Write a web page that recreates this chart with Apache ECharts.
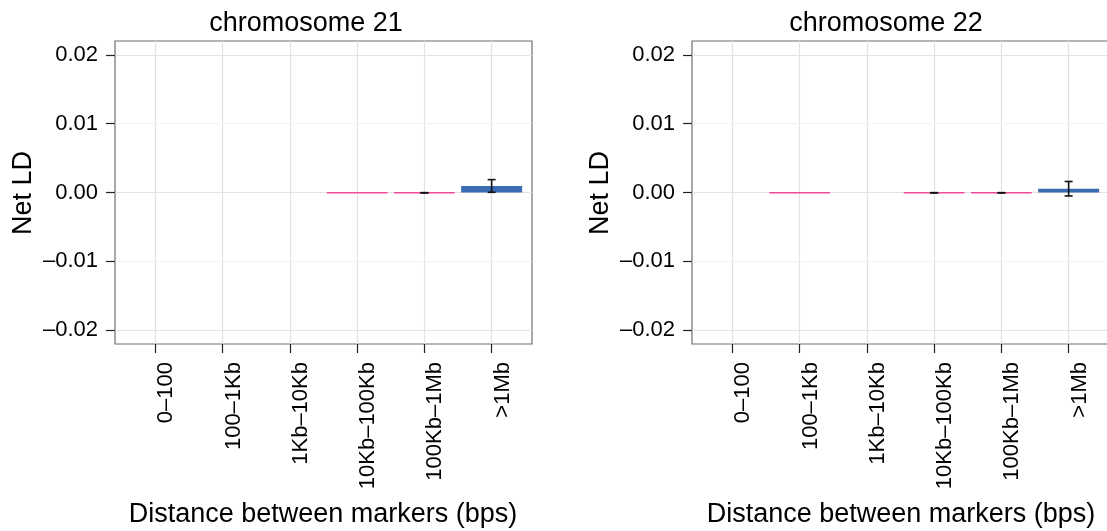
<!DOCTYPE html>
<html>
<head>
<meta charset="utf-8">
<script src="https://cdn.jsdelivr.net/npm/echarts@6/dist/echarts.min.js"></script>
<style>
html,body{margin:0;padding:0;background:#fff;}
#chart{width:1107px;height:531px;}
</style>
</head>
<body>
<div id="chart"></div>
<script>
const categories = ['0\u2013100', '100\u20131Kb', '1Kb\u201310Kb', '10Kb\u2013100Kb', '100Kb\u20131Mb', '>1Mb'];
const yTicks = [-0.02, -0.01, 0, 0.01, 0.02];
const yMinorTicks = [-0.015, -0.005, 0.005, 0.015];
const panelTitles = ['chromosome 21', 'chromosome 22'];
const xAxisTitle = 'Distance between markers (bps)';
const yAxisTitle = 'Net LD';

const chr21Values  = [null, null, null, -0.00004, -0.00004, 0.00095];
const chr21ErrLow  = [null, null, null, null, -0.00006, 0.00003];
const chr21ErrHigh = [null, null, null, null, -0.00002, 0.00187];

const chr22Values  = [null, -0.00004, null, -0.00004, -0.00004, 0.00055];
const chr22ErrLow  = [null, null, null, -0.00006, -0.00006, -0.0005];
const chr22ErrHigh = [null, null, null, -0.00002, -0.00002, 0.0016];

const panels = [
  {values: chr21Values, lo: chr21ErrLow, hi: chr21ErrHigh},
  {values: chr22Values, lo: chr22ErrLow, hi: chr22ErrHigh}
];

const FONT = "'Liberation Sans', Arial, Helvetica, sans-serif";
const POS = '#3a6cb4', NEG = '#ee4b9b';
const catIdx = categories.map((c, i) => i);
const fmtY = v => (v < 0 ? '\u2013' : '') + Math.abs(v).toFixed(2);

const gridLeft = [115, 692];
const grids = gridLeft.map(l => ({
  left: l, top: 41, width: 417, height: 303,
  containLabel: false, outerBoundsMode: 'none',
  show: true, borderColor: '#6e6e6e', borderWidth: 1.2, backgroundColor: '#fff'
}));

const xAxes = grids.map((g, i) => ({
  type: 'value', gridIndex: i, min: -0.6, max: 5.6, position: 'bottom',
  axisLine: {show: false, onZero: false},
  axisTick: {show: true, inside: false, length: 9, customValues: catIdx, lineStyle: {color: '#222', width: 1.2}},
  axisLabel: {
    customValues: catIdx, rotate: 90, margin: 18, fontSize: 22, fontFamily: FONT, color: '#000',
    verticalAlign: 'top',
    formatter: v => categories[Math.round(v)]
  },
  splitLine: {show: true, lineStyle: {color: '#e2e2e2', width: 1.2}}
}));

const yAxes = grids.map((g, i) => ({
  type: 'value', gridIndex: i, min: -0.022, max: 0.022, position: 'left',
  axisLine: {show: false, onZero: false},
  axisTick: {show: true, inside: false, length: 9, customValues: yTicks, lineStyle: {color: '#222', width: 1.2}},
  axisLabel: {customValues: yTicks, margin: 17, fontSize: 22, fontFamily: FONT, color: '#000', formatter: fmtY},
  splitLine: {show: true, lineStyle: {color: '#e2e2e2', width: 1.2}}
}));

const series = [];
panels.forEach((p, pi) => {
  const barData = [];
  p.values.forEach((v, i) => {
    if (v === null) return;
    const c = v >= 0 ? POS : NEG;
    barData.push({value: [i, v], itemStyle: {color: c, borderColor: c, borderWidth: v >= 0 ? 0 : 1.5}});
  });
  series.push({
    type: 'bar', xAxisIndex: pi, yAxisIndex: pi, barWidth: 61, data: barData, z: 3,
    markLine: {
      silent: true, symbol: 'none', label: {show: false}, animation: false,
      lineStyle: {color: '#f2f2f2', width: 1, type: 'solid'},
      data: yMinorTicks.map(t => ({yAxis: t}))
    }
  });
  const errData = [];
  p.lo.forEach((lo, i) => {
    if (lo === null || p.hi[i] === null) return;
    errData.push([i, lo, p.hi[i]]);
  });
  series.push({
    type: 'custom', xAxisIndex: pi, yAxisIndex: pi, z: 5, data: errData,
    renderItem: (params, api) => {
      const x = api.value(0);
      const a = api.coord([x, api.value(1)]);
      const b = api.coord([x, api.value(2)]);
      const hw = 4;
      const style = {stroke: '#111', lineWidth: 1.6, fill: null};
      return {type: 'group', children: [
        {type: 'line', shape: {x1: a[0], y1: a[1], x2: b[0], y2: b[1]}, style},
        {type: 'line', shape: {x1: a[0] - hw, y1: a[1], x2: a[0] + hw, y2: a[1]}, style},
        {type: 'line', shape: {x1: b[0] - hw, y1: b[1], x2: b[0] + hw, y2: b[1]}, style}
      ]};
    }
  });
});

const titleCX = [306, 886];
const xTitleCX = [323, 901];
const yTitleCX = [24, 601];
const graphics = [];
[0, 1].forEach(i => {
  graphics.push({type: 'text', x: titleCX[i], y: 24,
    style: {text: panelTitles[i], font: '27px ' + FONT, fill: '#000', textAlign: 'center', textVerticalAlign: 'middle'}});
  graphics.push({type: 'text', x: xTitleCX[i], y: 515,
    style: {text: xAxisTitle, font: '27px ' + FONT, fill: '#000', textAlign: 'center', textVerticalAlign: 'middle'}});
  graphics.push({type: 'text', x: yTitleCX[i], y: 193, rotation: Math.PI / 2,
    style: {text: yAxisTitle, font: '27px ' + FONT, fill: '#000', textAlign: 'center', textVerticalAlign: 'middle'}});
});

const chart = echarts.init(document.getElementById('chart'), null, {renderer: 'canvas'});
chart.setOption({
  animation: false,
  backgroundColor: '#fff',
  grid: grids,
  xAxis: xAxes,
  yAxis: yAxes,
  series: series,
  graphic: graphics
});
</script>
</body>
</html>
